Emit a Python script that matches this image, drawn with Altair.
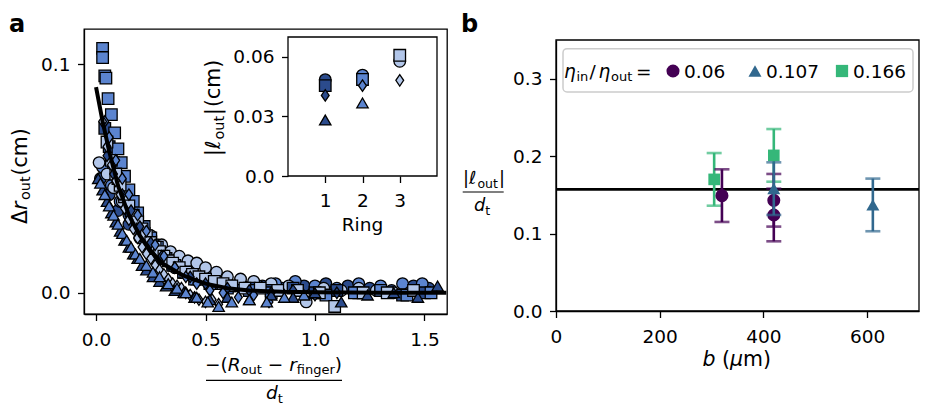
import altair as alt
import pandas as pd

FONT = "DejaVu Sans"
DARK, MED, LIGHT = "#2b4b8c", "#5b84cf", "#b2c6e9"
PURPLE, BLUE, GREEN = "#440154", "#31688e", "#35b779"

# ---------------- panel a: main scatter ----------------
r1_circle_x = [0.02, 0.06, 0.10, 0.15, 0.20, 0.25, 0.30, 0.36, 0.42, 0.50, 0.58, 0.67, 0.76, 0.85, 0.95, 1.05, 1.15, 1.25, 1.35, 1.45, 1.52]
r1_circle_y = [0.050, 0.043, 0.036, 0.030, 0.024, 0.019, 0.015, 0.011, 0.008, 0.006, 0.004, 0.003, 0.003, 0.002, 0.003, 0.004, 0.003, 0.002, 0.001, 0.003, 0.002]
r2_circle_x = [0.03, 0.07, 0.11, 0.15, 0.20, 0.26, 0.32, 0.38, 0.44, 0.50, 0.58, 0.66, 0.74, 0.82, 0.91, 1.00, 1.10, 1.20, 1.30, 1.40, 1.49]
r2_circle_y = [0.055, 0.047, 0.040, 0.034, 0.027, 0.021, 0.017, 0.013, 0.010, 0.008, 0.006, 0.004, 0.003, 0.004, 0.005, 0.003, 0.002, 0.004, 0.003, 0.004, 0.004]
r3_circle_x = [0.014, 0.05, 0.08, 0.12, 0.16, 0.20, 0.25, 0.30, 0.34, 0.38, 0.42, 0.46, 0.50, 0.55, 0.60, 0.66, 0.72, 0.80, 0.88, 0.96, 1.04, 1.12, 1.20, 1.28, 1.36]
r3_circle_y = [0.057, 0.052, 0.046, 0.040, 0.034, 0.029, 0.025, 0.021, 0.018, 0.016, 0.014, 0.013, 0.011, 0.009, 0.007, 0.006, 0.005, 0.004, 0.003, -0.004, 0.002, 0.001, 0.002, 0.001, 0.000]

r1_square_x = [0.04, 0.06, 0.08, 0.10, 0.13, 0.16, 0.19, 0.22, 0.26, 0.30, 0.35, 0.40, 0.46, 0.53, 0.61, 0.70, 0.80, 0.90, 1.00, 1.10, 1.20, 1.30, 1.40, 1.50]
r1_square_y = [0.072, 0.064, 0.057, 0.050, 0.043, 0.036, 0.031, 0.026, 0.021, 0.016, 0.012, 0.009, 0.006, 0.004, 0.003, 0.002, 0.001, 0.002, 0.000, 0.001, 0.000, 0.001, -0.001, 0.000]
r2_square_x = [0.03, 0.03, 0.04, 0.045, 0.055, 0.07, 0.085, 0.10, 0.115, 0.13, 0.15, 0.17, 0.19, 0.22, 0.25, 0.28, 0.32, 0.36, 0.40, 0.45, 0.52, 0.60, 0.70, 0.80, 0.92, 1.05, 1.18, 1.30, 1.42, 1.53]
r2_square_y = [0.107, 0.103, 0.095, 0.094, 0.085, 0.078, 0.070, 0.063, 0.057, 0.051, 0.045, 0.040, 0.035, 0.029, 0.024, 0.020, 0.015, 0.012, 0.009, 0.006, 0.004, 0.002, 0.001, 0.000, 0.001, -0.001, 0.000, 0.001, -0.001, 0.000]
r3_square_x = [0.05, 0.07, 0.09, 0.11, 0.13, 0.15, 0.17, 0.19, 0.21, 0.23, 0.25, 0.27, 0.29, 0.31, 0.33, 0.35, 0.38, 0.41, 0.44, 0.47, 0.50, 0.54, 0.58, 0.62, 0.68, 0.75, 0.83, 0.92, 1.02, 1.09, 1.22, 1.33, 1.45]
r3_square_y = [0.066, 0.058, 0.052, 0.047, 0.042, 0.038, 0.034, 0.031, 0.028, 0.025, 0.022, 0.020, 0.018, 0.016, 0.014, 0.013, 0.011, 0.009, 0.008, 0.007, 0.006, 0.005, 0.004, 0.003, 0.002, 0.002, 0.001, 0.001, 0.000, -0.006, 0.000, 0.000, 0.001]

r1_diamond_x = [0.05, 0.08, 0.12, 0.16, 0.20, 0.25, 0.30, 0.36, 0.43, 0.50, 0.60, 0.70, 0.80, 0.90, 1.00, 1.10]
r1_diamond_y = [0.060, 0.052, 0.043, 0.036, 0.029, 0.022, 0.016, 0.011, 0.007, 0.004, 0.002, 0.001, 0.000, 0.001, -0.001, 0.000]
r2_diamond_x = [0.04, 0.06, 0.09, 0.12, 0.15, 0.19, 0.23, 0.27, 0.31, 0.36, 0.41, 0.46, 0.52, 0.58, 0.65, 0.72, 0.79]
r2_diamond_y = [0.075, 0.068, 0.058, 0.050, 0.043, 0.034, 0.027, 0.021, 0.016, 0.011, 0.007, 0.004, 0.001, 0.000, -0.002, -0.001, -0.004]
r3_diamond_x = [0.03, 0.05, 0.07, 0.09, 0.11, 0.13, 0.15, 0.17, 0.19, 0.21, 0.23, 0.25, 0.27, 0.29, 0.31, 0.33, 0.35, 0.37, 0.39, 0.41, 0.43, 0.45, 0.47, 0.50, 0.53, 0.56]
r3_diamond_y = [0.075, 0.064, 0.056, 0.049, 0.043, 0.037, 0.032, 0.028, 0.024, 0.020, 0.017, 0.015, 0.012, 0.010, 0.008, 0.006, 0.004, 0.003, 0.002, 0.000, -0.001, -0.002, -0.003, -0.004, -0.003, -0.005]

r1_triangle_x = [0.01, 0.03, 0.05, 0.07, 0.09, 0.11, 0.13, 0.15, 0.17, 0.19, 0.21, 0.23, 0.26, 0.29, 0.32, 0.36, 0.40, 0.45, 0.52, 0.60, 0.70, 0.80, 0.90, 1.00, 1.12, 1.24, 1.36, 1.47, 1.56]
r1_triangle_y = [0.050, 0.045, 0.040, 0.035, 0.031, 0.027, 0.023, 0.020, 0.017, 0.015, 0.012, 0.010, 0.007, 0.005, 0.003, 0.001, 0.000, -0.002, -0.003, -0.002, -0.003, -0.001, -0.002, 0.000, -0.004, -0.001, 0.000, -0.002, 0.003]
r2_triangle_x = [0.02, 0.04, 0.06, 0.08, 0.10, 0.12, 0.14, 0.16, 0.18, 0.20, 0.23, 0.26, 0.29, 0.33, 0.37, 0.41, 0.46, 0.51, 0.56, 0.62, 0.70, 0.78, 0.86, 0.95]
r2_triangle_y = [0.048, 0.043, 0.038, 0.034, 0.030, 0.026, 0.023, 0.020, 0.017, 0.015, 0.012, 0.009, 0.007, 0.004, 0.002, 0.000, -0.002, -0.004, -0.006, -0.004, -0.003, -0.004, -0.002, -0.001]

# fit curve, points
curve_x = [0.0, 0.03, 0.06, 0.10, 0.15, 0.20, 0.25, 0.30, 0.40, 0.50, 0.60, 0.70, 0.85, 1.00, 1.30, 1.60]
curve_y = [0.090, 0.075, 0.062, 0.047, 0.034, 0.025, 0.0185, 0.013, 0.0075, 0.004, 0.002, 0.001, 0.0004, 0.0002, 0.0, 0.0]

# inset: |l_out| per ring
inset_ring = [1, 1, 1, 1, 2, 2, 2, 2, 3, 3, 3]
inset_shape = ["circle", "square", "diamond", "triangle", "circle", "square", "diamond", "triangle", "circle", "square", "diamond"]
inset_val = [0.0485, 0.0455, 0.0406, 0.0282, 0.0508, 0.0486, 0.0455, 0.0368, 0.0578, 0.0608, 0.0482]

# ---------------- panel b ----------------
green_b = [305, 420]
green_v = [0.170, 0.201]
green_e = [0.034, 0.034]
purple_b = [320, 420, 420]
purple_v = [0.149, 0.143, 0.124]
purple_e = [0.034, 0.034, 0.034]
blue_b = [420, 611]
blue_v = [0.158, 0.137]
blue_e = [0.034, 0.034]
mean_line = 0.157
legend_labels = ["0.06", "0.107", "0.166"]

# ---------------- helpers ----------------
SHAPE_DOM = ["circle", "square", "diamond", "triangle"]
SHAPE_RNG = ["circle", "square", "M0,-1L0.68,0L0,1L-0.68,0Z", "triangle-up"]
SIZE_RNG = [135, 130, 250, 150]
RING_DOM = ["1", "2", "3"]
RING_RNG = [DARK, MED, LIGHT]

ONE = pd.DataFrame({"k": [0]})
W = {' ': .318, '(': .390, ')': .390, '\u2212': .838, '|': .337, '/': .337, '=': .838,
     '\u0394': .685, '\u03b7': .634, '\u2113': .42, '\u03bc': .636, 'R': .695,
     'a': .613, 'b': .635, 'c': .550, 'd': .635, 'e': .615, 'f': .352, 'g': .635,
     'i': .278, 'm': .974, 'n': .634, 'o': .612, 'r': .411, 't': .392, 'u': .634}
SP = 0.318 * 18.5
LF, LS = 20.5, 14.4  # axis-title font and its subscript size


def tw(s, fs):
    return sum(W.get(ch, 0.6) for ch in s) * fs


def txt(s, x, y, fs=18.5, style="normal", weight="normal", angle=0, align="left",
        baseline="alphabetic", opacity=1.0):
    return alt.Chart(ONE).mark_text(
        text=s, font=FONT, fontSize=fs, fontStyle=style, fontWeight=weight, angle=angle,
        align=align, baseline=baseline, color="black", opacity=opacity
    ).encode(x=alt.value(x), y=alt.value(y))


def math(pieces, x0, y0, fs=18.5, sub=13, drop=3.5, vertical=False):
    out = []
    pos = 0.0
    for p in pieces:
        s, kind = p[0], p[1]
        gap = p[2] if len(p) > 2 else 0.0
        is_sub = kind.startswith("sub")
        size = sub if is_sub else fs
        style = "italic" if kind.endswith("it") else "normal"
        dy = drop if is_sub else 0.0
        if vertical:
            out.append(txt(s, x0 + dy, y0 - pos, size, style, angle=270))
        else:
            out.append(txt(s, x0 + pos, y0 + dy, size, style))
        pos += tw(s, size) + gap
    return out


def hrule(x1, x2, y, w=1.2, opacity=1.0):
    return alt.Chart(ONE).mark_rule(color="black", strokeWidth=w, opacity=opacity).encode(
        x=alt.value(x1), x2=alt.value(x2), y=alt.value(y))


def box(x1, x2, y1, y2, fill="white", fop=1.0, stroke="black", sw=1.3, r=0):
    return alt.Chart(ONE).mark_rect(fill=fill, fillOpacity=fop, stroke=stroke, strokeWidth=sw,
                                    cornerRadius=r).encode(
        x=alt.value(x1), x2=alt.value(x2), y=alt.value(y1), y2=alt.value(y2))


# ---------------- panel a ----------------
series = [
    ("1", "circle", r1_circle_x, r1_circle_y), ("2", "circle", r2_circle_x, r2_circle_y),
    ("3", "circle", r3_circle_x, r3_circle_y),
    ("1", "square", r1_square_x, r1_square_y), ("2", "square", r2_square_x, r2_square_y),
    ("3", "square", r3_square_x, r3_square_y),
    ("1", "diamond", r1_diamond_x, r1_diamond_y), ("2", "diamond", r2_diamond_x, r2_diamond_y),
    ("3", "diamond", r3_diamond_x, r3_diamond_y),
    ("1", "triangle", r1_triangle_x, r1_triangle_y), ("2", "triangle", r2_triangle_x, r2_triangle_y),
]
rows = []
for ring, shape, xs, ys in series:
    for xv, yv in zip(xs, ys):
        rows.append({"x": xv, "y": yv, "ring": ring, "shape": shape})
sc_df = pd.DataFrame(rows)

AW, AH = 363, 285
xa = alt.Scale(domain=[-0.055, 1.603], nice=False, zero=False, padding=0)
ya = alt.Scale(domain=[-0.0093, 0.1155], nice=False, zero=False, padding=0)
shape_enc = alt.Shape("shape:N", scale=alt.Scale(domain=SHAPE_DOM, range=SHAPE_RNG), legend=None)
size_enc = alt.Size("shape:N", scale=alt.Scale(domain=SHAPE_DOM, range=SIZE_RNG), legend=None)
fill_enc = alt.Fill("ring:N", scale=alt.Scale(domain=RING_DOM, range=RING_RNG), legend=None)

scatter = alt.Chart(sc_df).mark_point(filled=True, stroke="black", strokeWidth=1.3, opacity=1, clip=True).encode(
    x=alt.X("x:Q", scale=xa, axis=alt.Axis(values=[0, 0.5, 1.0, 1.5], format=".1f", title=None)),
    y=alt.Y("y:Q", scale=ya, axis=alt.Axis(values=[0, 0.05, 0.1], title=None,
                                           labelExpr="datum.value == 0.05 ? '' : format(datum.value, '.1f')")),
    shape=shape_enc, size=size_enc, fill=fill_enc,
)
curve = alt.Chart(pd.DataFrame({"x": curve_x, "y": curve_y})).mark_line(
    color="black", strokeWidth=4, clip=True).encode(x=alt.X("x:Q", scale=xa), y=alt.Y("y:Q", scale=ya))

main_a = alt.layer(scatter, curve)

xi = alt.Scale(domain=[0, 4], range=[204, 353], nice=False, zero=False)
yi = alt.Scale(domain=[0, 0.07], range=[147, 8], nice=False, zero=False)
inset_df = pd.DataFrame({"ring": inset_ring, "val": inset_val, "shape": inset_shape,
                         "ringc": [str(r) for r in inset_ring]})
inset_pts = alt.Chart(inset_df).mark_point(filled=True, stroke="black", strokeWidth=1.3, opacity=1).encode(
    x=alt.X("ring:Q", scale=xi, axis=alt.Axis(orient="bottom", offset=-138, values=[1, 2, 3], format="d",
                                             title=None, labelPadding=9, domain=False)),
    y=alt.Y("val:Q", scale=yi, axis=alt.Axis(orient="left", offset=-204, values=[0, 0.03, 0.06], title=None,
                                            domain=False,
                                            labelExpr="datum.value == 0 ? '0.0' : format(datum.value, '.2f')")),
    shape=shape_enc, size=size_enc,
    fill=alt.Fill("ringc:N", scale=alt.Scale(domain=RING_DOM, range=RING_RNG), legend=None),
)
inset_frame = box(204, 353, 8, 147)

texts_a = [hrule(-75, -70, -20, opacity=0.0),
           txt("a", -75, 2.5, fs=24, weight="bold")]
texts_a += math([("\u0394", "rm"), ("r", "it", 1.5), ("out", "sub", 1), ("(cm)", "rm")], -57.4, 195,
                fs=LF, sub=LS, drop=3.5, vertical=True)
texts_a += math([("|", "rm"), ("\u2113", "it", 1), ("out", "sub", 1), ("|", "rm", 1), ("(cm)", "rm")], 136, 127,
                fs=LF, sub=LS, drop=3.5, vertical=True)
texts_a += [txt("Ring", 278.5, 202, align="center")]
texts_a += math([("\u2212(", "rm"), ("R", "it"), ("out", "sub", SP), ("\u2212", "rm", SP), ("r", "it"),
                 ("finger", "sub"), (")", "rm")], 121, 341.5)
texts_a += [hrule(122, 258, 351.3)]
texts_a += math([("d", "it"), ("t", "sub")], 182, 370.3)

panel_a = alt.layer(main_a, inset_frame, inset_pts, *texts_a).resolve_scale(
    x="independent", y="independent").properties(width=AW, height=AH)

# ---------------- panel b ----------------
BW, BH = 363, 282
TOP = 11  # plot frame starts this far below the panel top
xb = alt.Scale(domain=[0, 700], nice=False, zero=False, padding=0)
yb = alt.Scale(domain=[0, 0.35], range=[BH, TOP], nice=False, zero=False)


def group(bs, vs, es, color, shape, size):
    df = pd.DataFrame({"b": bs, "v": vs, "lo": [v - e for v, e in zip(vs, es)],
                       "hi": [v + e for v, e in zip(vs, es)]})
    base = alt.Chart(df)
    bar = base.mark_rule(color=color, strokeWidth=2.6).encode(
        x=alt.X("b:Q", scale=xb), y=alt.Y("lo:Q", scale=yb), y2="hi:Q")
    cap_lo = base.mark_tick(color=color, orient="horizontal", size=15, thickness=2.6).encode(
        x=alt.X("b:Q", scale=xb), y=alt.Y("lo:Q", scale=yb))
    cap_hi = base.mark_tick(color=color, orient="horizontal", size=15, thickness=2.6).encode(
        x=alt.X("b:Q", scale=xb), y=alt.Y("hi:Q", scale=yb))
    pts = base.mark_point(filled=True, shape=shape, color=color, size=size, opacity=1).encode(
        x=alt.X("b:Q", scale=xb), y=alt.Y("v:Q", scale=yb))
    return [bar, cap_lo, cap_hi, pts]


frame_b = box(0, BW, TOP, BH, fill="white", fop=0.0)
hline = alt.Chart(pd.DataFrame({"m": [mean_line]})).mark_rule(color="black", strokeWidth=2.8).encode(
    y=alt.Y("m:Q", scale=yb, axis=alt.Axis(values=[0, 0.1, 0.2, 0.3], format=".1f", title=None)))
axis_b = alt.Chart(pd.DataFrame({"b": [0, 700]})).mark_point(opacity=0).encode(
    x=alt.X("b:Q", scale=xb, axis=alt.Axis(values=[0, 200, 400, 600], format="d", title=None)))

layers_b = [axis_b, hline]
layers_b += group(green_b, green_v, green_e, GREEN, "square", 135)
layers_b += group(purple_b, purple_v, purple_e, PURPLE, "circle", 170)
layers_b += group(blue_b, blue_v, blue_e, BLUE, "triangle-up", 170)

leg = [box(7, 357, TOP + 8.7, TOP + 52, fill="white", fop=0.8, stroke="#cccccc", sw=1.5, r=4)]
LB = TOP + 37.5
leg += [txt("\u03b7", 8, LB, style="italic"), txt("in", 20.5, LB + 3.5, fs=13),
        txt("/", 33.5, LB), txt("\u03b7", 42.5, LB, style="italic"), txt("out", 55, LB + 3.5, fs=13),
        txt("=", 80, LB)]
for xpos, shape, color, size in [(117, "circle", PURPLE, 170), (199, "triangle-up", BLUE, 170),
                                 (286, "square", GREEN, 150)]:
    leg.append(alt.Chart(ONE).mark_point(filled=True, shape=shape, color=color, size=size, opacity=1).encode(
        x=alt.value(xpos), y=alt.value(TOP + 31)))
leg += [txt(legend_labels[0], 128, LB), txt(legend_labels[1], 210, LB), txt(legend_labels[2], 297, LB)]

texts_b = [txt("b", -95, 2.5, fs=24, weight="bold")]
texts_b += math([("|", "rm"), ("\u2113", "it", 1), ("out", "sub", 1), ("|", "rm")], -93, TOP + 144,
                fs=17.8, sub=12.5)
texts_b += [hrule(-93.3, -52.3, TOP + 152)]
texts_b += math([("d", "it"), ("t", "sub")], -82, TOP + 171, fs=17.8, sub=12.5)
texts_b += math([("b", "it", 0.318 * LF), ("(", "rm"), ("\u03bc", "it"), ("m)", "rm")], 146.5, TOP + 326,
                fs=LF, sub=LS)

panel_b = alt.layer(frame_b, *layers_b, *leg, *texts_b).properties(
    width=BW, height=BH, view=alt.ViewBackground(stroke=None))

chart = alt.hconcat(panel_a, panel_b, spacing=13).properties(padding=0).configure_view(
    stroke="black", strokeWidth=1.3
).configure_axis(
    labelFont=FONT, labelFontSize=18.5, labelColor="black", tickColor="black", tickSize=6.5,
    tickWidth=1.3, domainColor="black", domainWidth=1.3, grid=False, labelFlush=False,
).configure_axisX(labelPadding=10).configure_axisY(labelPadding=7.5)

chart.save("out.html", embed_options={"renderer": "svg", "actions": False})
